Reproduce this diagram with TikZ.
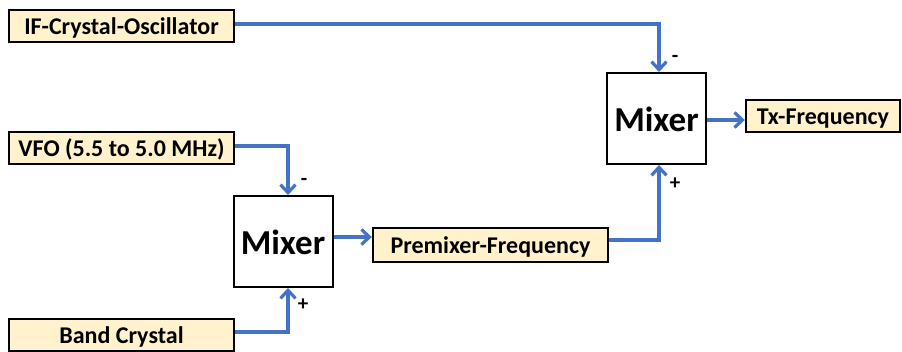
\documentclass[tikz,border=0pt]{standalone}
\usepackage{fontspec}
\setmainfont{Carlito}
\usetikzlibrary{arrows.meta}
\definecolor{boxfill}{HTML}{FFF2CC}
\definecolor{wire}{HTML}{4472C4}
\tikzset{
  signal/.style={draw=black, line width=2.4pt, fill=boxfill, font=\bfseries\fontsize{24}{28}\selectfont,
    inner sep=0pt, minimum height=32pt, text height=16pt, text depth=0pt},
  mixer/.style={draw=black, line width=2pt, fill=white, font=\bfseries\fontsize{35}{40}\selectfont,
    inner sep=0pt, minimum width=99pt, minimum height=91pt, text height=25pt, text depth=0pt},
  link/.style={draw=wire, line width=3.2pt, -{Straight Barb[length=8pt,width=15pt,line width=3.2pt]}},
  sign/.style={font=\bfseries\fontsize{21}{24}\selectfont, inner sep=0pt}
}
\begin{document}
\begin{tikzpicture}[x=1pt,y=-1pt]
\useasboundingbox (0,0) rectangle (902,351);
% sources
\node[signal, minimum width=225pt] (ifosc) at (121.5,26) {IF-Crystal-Oscillator};
\node[signal, minimum width=225pt] (vfo) at (121.5,148) {VFO (5.5 to 5.0 MHz)};
\node[signal, minimum width=225pt] (band) at (121.5,335) {Band Crystal};
% mixers
\node[mixer] (mixA) at (283,241.5) {Mixer};
\node[mixer] (mixB) at (656.5,118.5) {Mixer};
% outputs
\node[signal, minimum width=235pt, minimum height=34pt] (pre) at (490.5,245) {Premixer-Frequency};
\node[signal, minimum width=154pt] (tx) at (823,116) {Tx-Frequency};
% signal paths
\coordinate (mAout) at ([yshift=4.5pt]mixA.east);
\coordinate (mBout) at ([yshift=-1.5pt]mixB.east);
\draw[link] ([yshift=2pt]ifosc.east) -| ([xshift=2.5pt]mixB.north);
\draw[link] ([yshift=2pt]vfo.east) -| ([xshift=5pt]mixA.north);
\draw[link] ([yshift=3pt]band.east) -| ([xshift=5pt]mixA.south);
\draw[link] (mAout) -- (mAout -| pre.west);
\draw[link] ([yshift=5pt]pre.east) -| ([xshift=2.5pt]mixB.south);
\draw[link] (mBout) -- (mBout -| tx.west);
% polarity marks
\node[sign] (mBminus) at (675,59) {-};
\node[sign] (mBplus) at (675,184) {+};
\node[sign] (mAminus) at (304,182) {-};
\node[sign] (mAplus) at (303,305) {+};
\end{tikzpicture}
\end{document}
